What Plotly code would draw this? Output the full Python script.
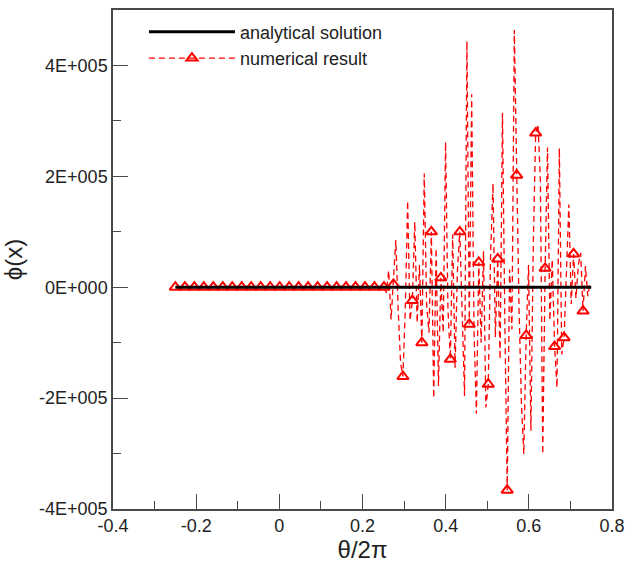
import numpy as np
import plotly.graph_objects as go

# ---- data ----
analytic_x = [-0.25, 0.75]
analytic_y = [0.0, 0.0]

h = 0.0057            # grid step of the numerical solution
n_zero = 88           # leading grid points where the numerical result is ~0
num_tail = [
    0, -10e3, 30e3, -58e3,
    5e3, 85e3, -40e3, -136e3,
    -161e3, -40e3, 156e3, -60e3,
    -24e3, 118e3, -64e3, 40e3,
    -100e3, 205e3, -30e3, -82e3,
    100e3, -200e3, 70e3, -178e3,
    17e3, -82e3, 262e3, -40e3,
    -130e3, 95e3, -145e3, 30e3,
    100e3, -60e3, -196e3, 444e3,
    -67e3, 348e3, -80e3, -228e3,
    45e3, -100e3, 65e3, -217e3,
    -175e3, 60e3, 187e3, -90e3,
    51e3, -130e3, 314e3, -60e3,
    -366e3, 32e3, -76e3, 464e3,
    202e3, -40e3, -208e3, -301e3,
    -87e3, 40e3, -259e3, 74e3,
    278e3, 294e3, 191e3, -301e3,
    34e3, 252e3, -60e3, 50e3,
    -107e3, -181e3, 251e3, -121e3,
    -91e3, 30e3, 149e3, -30e3,
    60e3, -20e3, 40e3, 62e3,
    -43e3, 38e3, -16e3, 10e3,
]
num_y = [0.0] * n_zero + num_tail
num_x = [-0.25 + j * h for j in range(len(num_y))]

# marker (every 4th grid point) values
marker_every = 4
marker_x = num_x[::marker_every]
marker_y = num_y[::marker_every]

y_tickvals = [-4e5, -2e5, 0, 2e5, 4e5]
y_ticktext = ["-4E+005", "-2E+005", "0E+000", "2E+005", "4E+005"]
x_tickvals = [-0.4, -0.2, 0, 0.2, 0.4, 0.6, 0.8]
x_ticktext = ["-0.4", "-0.2", "0", "0.2", "0.4", "0.6", "0.8"]

FONT = "Liberation Sans, Arial, Helvetica, sans-serif"
RED = "#ff0000"

fig = go.Figure()
fig.add_trace(go.Scatter(
    x=num_x, y=num_y, mode="lines",
    line=dict(color=RED, width=1.3, dash="6px,4px"),
    showlegend=False, hoverinfo="skip"))
fig.add_trace(go.Scatter(
    x=marker_x, y=marker_y, mode="markers",
    marker=dict(symbol="triangle-up-open", size=10, color=RED,
                line=dict(color=RED, width=2)),
    showlegend=False))
fig.add_trace(go.Scatter(
    x=analytic_x, y=analytic_y, mode="lines",
    line=dict(color="black", width=3),
    name="analytical solution"))
fig.add_trace(go.Scatter(
    x=[None], y=[None], mode="lines+markers",
    line=dict(color=RED, width=1.3, dash="6px,4px"),
    marker=dict(symbol="triangle-up-open", size=10, color=RED,
                line=dict(color=RED, width=2)),
    name="numerical result"))

axis_common = dict(
    showgrid=False, zeroline=False, showline=True, mirror=True,
    automargin=False,
    linecolor="#4a4a4a", linewidth=1.5,
    ticks="inside", ticklen=15, tickwidth=1.2, tickcolor="#4a4a4a",
    tickfont=dict(family=FONT, size=18, color="#222"),
)

fig.update_xaxes(
    range=[-0.4, 0.8], tickmode="array", tickvals=x_tickvals, ticktext=x_ticktext,
    minor=dict(ticks="inside", ticklen=8, dtick=0.1, tick0=-0.4, tickcolor="#4a4a4a", tickwidth=1.2),
    title=dict(text="θ/2π", font=dict(family=FONT, size=24, color="#222"), standoff=4),
    **axis_common)
fig.update_yaxes(
    range=[-4e5, 5e5], tickmode="array", tickvals=y_tickvals, ticktext=y_ticktext,
    minor=dict(ticks="inside", ticklen=8, dtick=1e5, tick0=-4e5, tickcolor="#4a4a4a", tickwidth=1.2),
    title=dict(text="ϕ(x)", font=dict(family=FONT, size=24, color="#222"), standoff=14),
    **axis_common)

fig.update_layout(
    width=626, height=569,
    margin=dict(l=113, r=14, t=10, b=60),
    plot_bgcolor="white", paper_bgcolor="white",
    font=dict(family=FONT, size=18, color="#222"),
    legend=dict(x=0.062, y=0.993, xanchor="left", yanchor="top",
                bgcolor="rgba(0,0,0,0)", font=dict(family=FONT, size=18, color="#222"),
                itemwidth=86, tracegroupgap=0),
)

fig.write_html("out.html")
